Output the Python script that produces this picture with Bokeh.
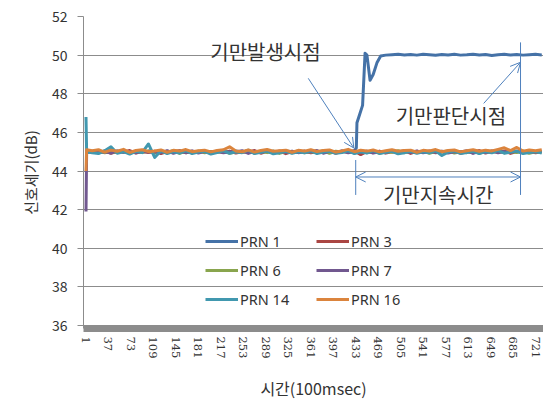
from bokeh.plotting import figure
from bokeh.models import Legend, LegendItem, FixedTicker, Arrow, OpenHead, Range1d
from bokeh.core.properties import value
from bokeh.embed import file_html
from bokeh.resources import INLINE

# ---------------- data ----------------
# sample positions (100 msec units) shared by the flat series
t_common = [1, 2] + list(range(11, 732, 10))

prn3 = [45.00, 45.00,
        45.00, 44.95, 45.04, 44.92, 45.02, 44.97, 45.06, 44.93, 45.01, 44.96,
        45.03, 44.90, 45.00, 44.98, 45.05, 44.94, 45.02, 44.97, 45.04, 44.91,
        45.01, 44.96, 45.03, 44.93, 45.00, 44.98, 45.06, 44.92, 45.02, 44.95,
        45.04, 44.90, 45.01, 44.97, 45.03, 44.94, 45.00, 44.96, 45.05, 44.92,
        45.02, 44.97, 45.04, 44.85, 45.01, 44.95, 45.03, 44.93, 45.00, 44.98,
        45.05, 44.91, 45.02, 44.96, 45.04, 44.94, 45.01, 44.97, 45.03, 44.92,
        45.00, 44.95, 45.06, 44.93, 45.02, 44.97, 45.04, 44.91, 45.01, 44.96,
        45.03, 44.94, 45.00]
prn6 = [45.00, 45.00,
        44.98, 45.03, 44.94, 45.01, 44.96, 45.05, 44.92, 45.02, 44.97, 45.04,
        44.93, 45.00, 44.95, 45.06, 44.91, 45.02, 44.97, 45.03, 44.94, 45.01,
        44.96, 45.04, 44.92, 45.00, 44.98, 45.05, 44.93, 45.02, 44.95, 45.03,
        44.91, 45.01, 44.97, 45.04, 44.94, 45.00, 44.96, 45.05, 44.92, 45.02,
        44.98, 45.03, 44.93, 45.01, 44.95, 45.04, 44.91, 45.00, 44.97, 45.05,
        44.94, 45.02, 44.96, 45.03, 44.92, 45.01, 44.98, 45.04, 44.93, 45.00,
        44.95, 45.06, 44.91, 45.02, 44.97, 45.03, 44.94, 45.01, 44.96, 45.04,
        44.92, 45.00, 44.98]
prn7 = [41.90, 44.95,
        45.02, 44.96, 45.00, 44.93, 45.04, 44.97, 45.01, 44.94, 45.03, 44.98,
        45.00, 44.95, 45.05, 44.92, 45.02, 44.96, 45.04, 44.93, 45.01, 44.97,
        45.03, 44.94, 45.00, 44.98, 45.05, 44.91, 45.02, 44.96, 45.04, 44.93,
        45.01, 44.97, 45.03, 44.95, 45.00, 44.98, 45.06, 44.92, 45.02, 44.96,
        45.04, 44.94, 45.01, 44.97, 45.03, 44.93, 45.00, 44.95, 45.05, 44.92,
        45.02, 44.96, 45.04, 44.94, 45.01, 44.97, 45.03, 44.93, 45.00, 44.98,
        45.05, 44.91, 45.02, 44.96, 45.04, 44.94, 45.01, 44.97, 45.03, 44.95,
        45.00, 44.98, 45.02]
prn14 = [46.80, 45.00,
         44.95, 44.90, 45.05, 45.25, 44.92, 45.00, 44.88, 45.02, 44.95, 45.40,
         44.70, 45.05, 44.90, 45.00, 44.93, 45.06, 44.90, 44.98, 45.02, 44.88,
         44.96, 45.04, 44.92, 45.00, 44.95, 45.08, 44.90, 44.97, 45.03, 44.89,
         44.95, 45.02, 44.91, 45.00, 44.94, 45.05, 44.90, 44.98, 45.02, 44.92,
         44.96, 45.04, 44.90, 44.99, 44.93, 45.06, 44.91, 44.97, 45.02, 44.89,
         44.95, 45.02, 44.92, 45.00, 44.94, 45.05, 44.80, 44.98, 45.03, 44.91,
         44.96, 45.02, 44.90, 45.00, 44.94, 45.06, 44.92, 44.98, 45.03, 44.90,
         44.96, 45.01, 44.93]
prn16 = [44.00, 45.10,
         45.05, 45.10, 44.98, 45.08, 45.02, 45.12, 44.96, 45.06, 45.10, 45.00,
         45.04, 45.09, 44.97, 45.07, 45.03, 45.11, 45.00, 45.05, 45.08, 44.99,
         45.06, 45.10, 45.25, 45.04, 45.00, 45.09, 44.98, 45.06, 45.11, 45.02,
         45.05, 45.08, 44.97, 45.07, 45.03, 45.10, 45.01, 45.06, 45.09, 44.98,
         45.04, 45.12, 45.00, 45.07, 45.03, 45.09, 44.99, 45.05, 45.10, 45.02,
         45.06, 45.08, 44.97, 45.07, 45.04, 45.11, 45.00, 45.06, 45.09, 44.99,
         45.05, 45.10, 45.02, 45.08, 45.04, 45.12, 45.20, 45.06, 45.22, 45.03,
         45.09, 45.05, 45.10]

# PRN 1 (spoofed satellite) has its own sample positions around the jump
t_prn1 = ([1, 2] + list(range(11, 422, 10))
          + [427, 431, 434, 435, 438, 444, 448, 451, 456, 461, 467, 473, 481]
          + list(range(491, 732, 10)))
prn1 = [45.00, 45.02,
        44.98, 45.03, 44.96, 45.01, 44.99, 45.04, 44.95, 45.02, 44.97, 45.03,
        45.00, 44.96, 45.02, 44.98, 45.04, 44.95, 45.01, 44.99, 45.03, 44.97,
        45.02, 45.00, 44.96, 45.04, 44.98, 45.01, 44.95, 45.03, 44.99, 45.02,
        44.97, 45.04, 45.00, 44.96, 45.02, 44.98, 45.03, 44.97, 45.01, 44.99,
        45.02, 44.98,
        45.02, 45.05, 45.20, 46.50, 46.80, 47.40, 50.10, 50.00, 48.70, 49.00,
        49.60, 49.95, 50.00,
        50.02, 50.04, 50.01, 50.03, 50.00, 50.05, 50.02, 49.99, 50.03, 50.01,
        50.04, 50.00, 50.02, 50.05, 50.01, 50.03, 49.98, 50.02, 50.04, 50.01,
        50.03, 50.00, 50.02, 50.04, 50.01]

series_names = ["PRN 1", "PRN 3", "PRN 6", "PRN 7", "PRN 14", "PRN 16"]
series_colors = ["#4572A7", "#AA4643", "#89A54E", "#71588F", "#4198AF", "#DB843D"]

x_tick_labels = [1, 37, 73, 109, 145, 181, 217, 253, 289, 325, 361, 397,
                 433, 469, 505, 541, 577, 613, 649, 685, 721]
y_ticks = [36, 38, 40, 42, 44, 46, 48, 50, 52]

# event markers (100 msec)
spoof_start = 433
spoof_detect = 697

# ---------------- figure ----------------
CJK = "Noto Sans CJK KR"
p = figure(width=543, height=403, output_backend="svg", toolbar_location=None,
           x_range=Range1d(-3, 733.8), y_range=Range1d(35.845, 52),
           min_border_left=83, min_border_right=0, min_border_top=16,
           min_border_bottom=74)
p.outline_line_color = None
p.background_fill_color = "white"
p.border_fill_color = "white"

xs_all = [t_prn1, t_common, t_common, t_common, t_common, t_common]
ys_all = [prn1, prn3, prn6, prn7, prn14, prn16]
renderers = []
for xs, ys, c in zip(xs_all, ys_all, series_colors):
    r = p.line(xs, ys, line_color=c, line_width=3, line_join="round")
    renderers.append(r)

# axes
p.xgrid.grid_line_color = None
p.ygrid.grid_line_color = "#8c8c8c"
p.ygrid.grid_line_width = 1
p.yaxis.ticker = FixedTicker(ticks=y_ticks)
p.xaxis.ticker = FixedTicker(ticks=x_tick_labels)

p.yaxis.axis_line_color = "#8c8c8c"
p.yaxis.major_tick_line_color = "#8c8c8c"
p.yaxis.major_tick_out = 6
p.yaxis.major_tick_in = 0
p.yaxis.minor_tick_line_color = None
p.yaxis.major_label_text_font = CJK
p.yaxis.major_label_text_font_size = "14px"
p.yaxis.major_label_text_color = "#333333"
p.yaxis.major_label_standoff = 10
p.yaxis.axis_label = "신호세기(dB)"
p.yaxis.axis_label_text_font = CJK
p.yaxis.axis_label_text_font_size = "15px"
p.yaxis.axis_label_text_font_style = "normal"
p.yaxis.axis_label_text_color = "#333333"
p.yaxis.axis_label_standoff = 8

p.xaxis.axis_line_color = "#8c8c8c"
p.xaxis.axis_line_width = 7
p.xaxis.major_tick_line_color = None
p.xaxis.major_tick_out = 0
p.xaxis.minor_tick_line_color = None
p.xaxis.minor_tick_out = 0
p.xaxis.major_label_orientation = "vertical"
p.xaxis.major_label_text_font = "DejaVu Serif"
p.xaxis.major_label_text_font_size = "11.5px"
p.xaxis.major_label_text_color = "#333333"
p.xaxis.major_label_standoff = 8
p.xaxis.axis_label = "시간(100msec)"
p.xaxis.axis_label_text_font = CJK
p.xaxis.axis_label_text_font_size = "16px"
p.xaxis.axis_label_text_font_style = "normal"
p.xaxis.axis_label_text_color = "#333333"
p.xaxis.axis_label_standoff = 15

# annotations
ann_color = "#4F81BD"
p.add_layout(Arrow(end=OpenHead(size=10, line_color=ann_color, line_width=1),
                   x_start=357, y_start=48.8, x_end=spoof_start - 3, y_end=45.19,
                   line_color=ann_color, line_width=1))
p.add_layout(Arrow(end=OpenHead(size=10, line_color=ann_color, line_width=1),
                   x_start=638, y_start=47.5, x_end=spoof_detect, y_end=49.63,
                   line_color=ann_color, line_width=1))
p.add_layout(Arrow(start=OpenHead(size=10, line_color=ann_color, line_width=1),
                   end=OpenHead(size=10, line_color=ann_color, line_width=1),
                   x_start=spoof_start, y_start=43.69, x_end=spoof_detect, y_end=43.69,
                   line_color=ann_color, line_width=1))
p.segment(x0=[spoof_start, spoof_detect], y0=[44.57, 50.66],
          x1=[spoof_start, spoof_detect], y1=[42.76, 42.76],
          line_color=ann_color, line_width=1)

p.text(x=[200, 497], y=[50.2, 46.89], text=["기만발생시점", "기만판단시점"],
       text_font=value(CJK), text_font_size="20px", text_color="#333333",
       text_align="left", text_baseline="middle")
p.text(x=[(spoof_start + spoof_detect) / 2], y=[42.8], text=["기만지속시간"],
       text_font=value(CJK), text_font_size="20px", text_color="#333333",
       text_align="center", text_baseline="middle")

# legend (2 columns, filled column by column -> order so rows read 1/3, 6/7, 14/16)
order = [0, 2, 4, 1, 3, 5]
items = [LegendItem(label=series_names[i], renderers=[renderers[i]]) for i in order]
legend = Legend(items=items, ncols=2, location=(122, 19),
                background_fill_alpha=0, border_line_color=None,
                padding=0, margin=0, spacing=9, glyph_width=33, glyph_height=16,
                label_height=16, label_width=67, label_standoff=2,
                label_text_font="Noto Sans", label_text_font_size="14.5px",
                label_text_color="#333333")
p.add_layout(legend, "center")

open("out.html", "w").write(file_html(p, INLINE))
